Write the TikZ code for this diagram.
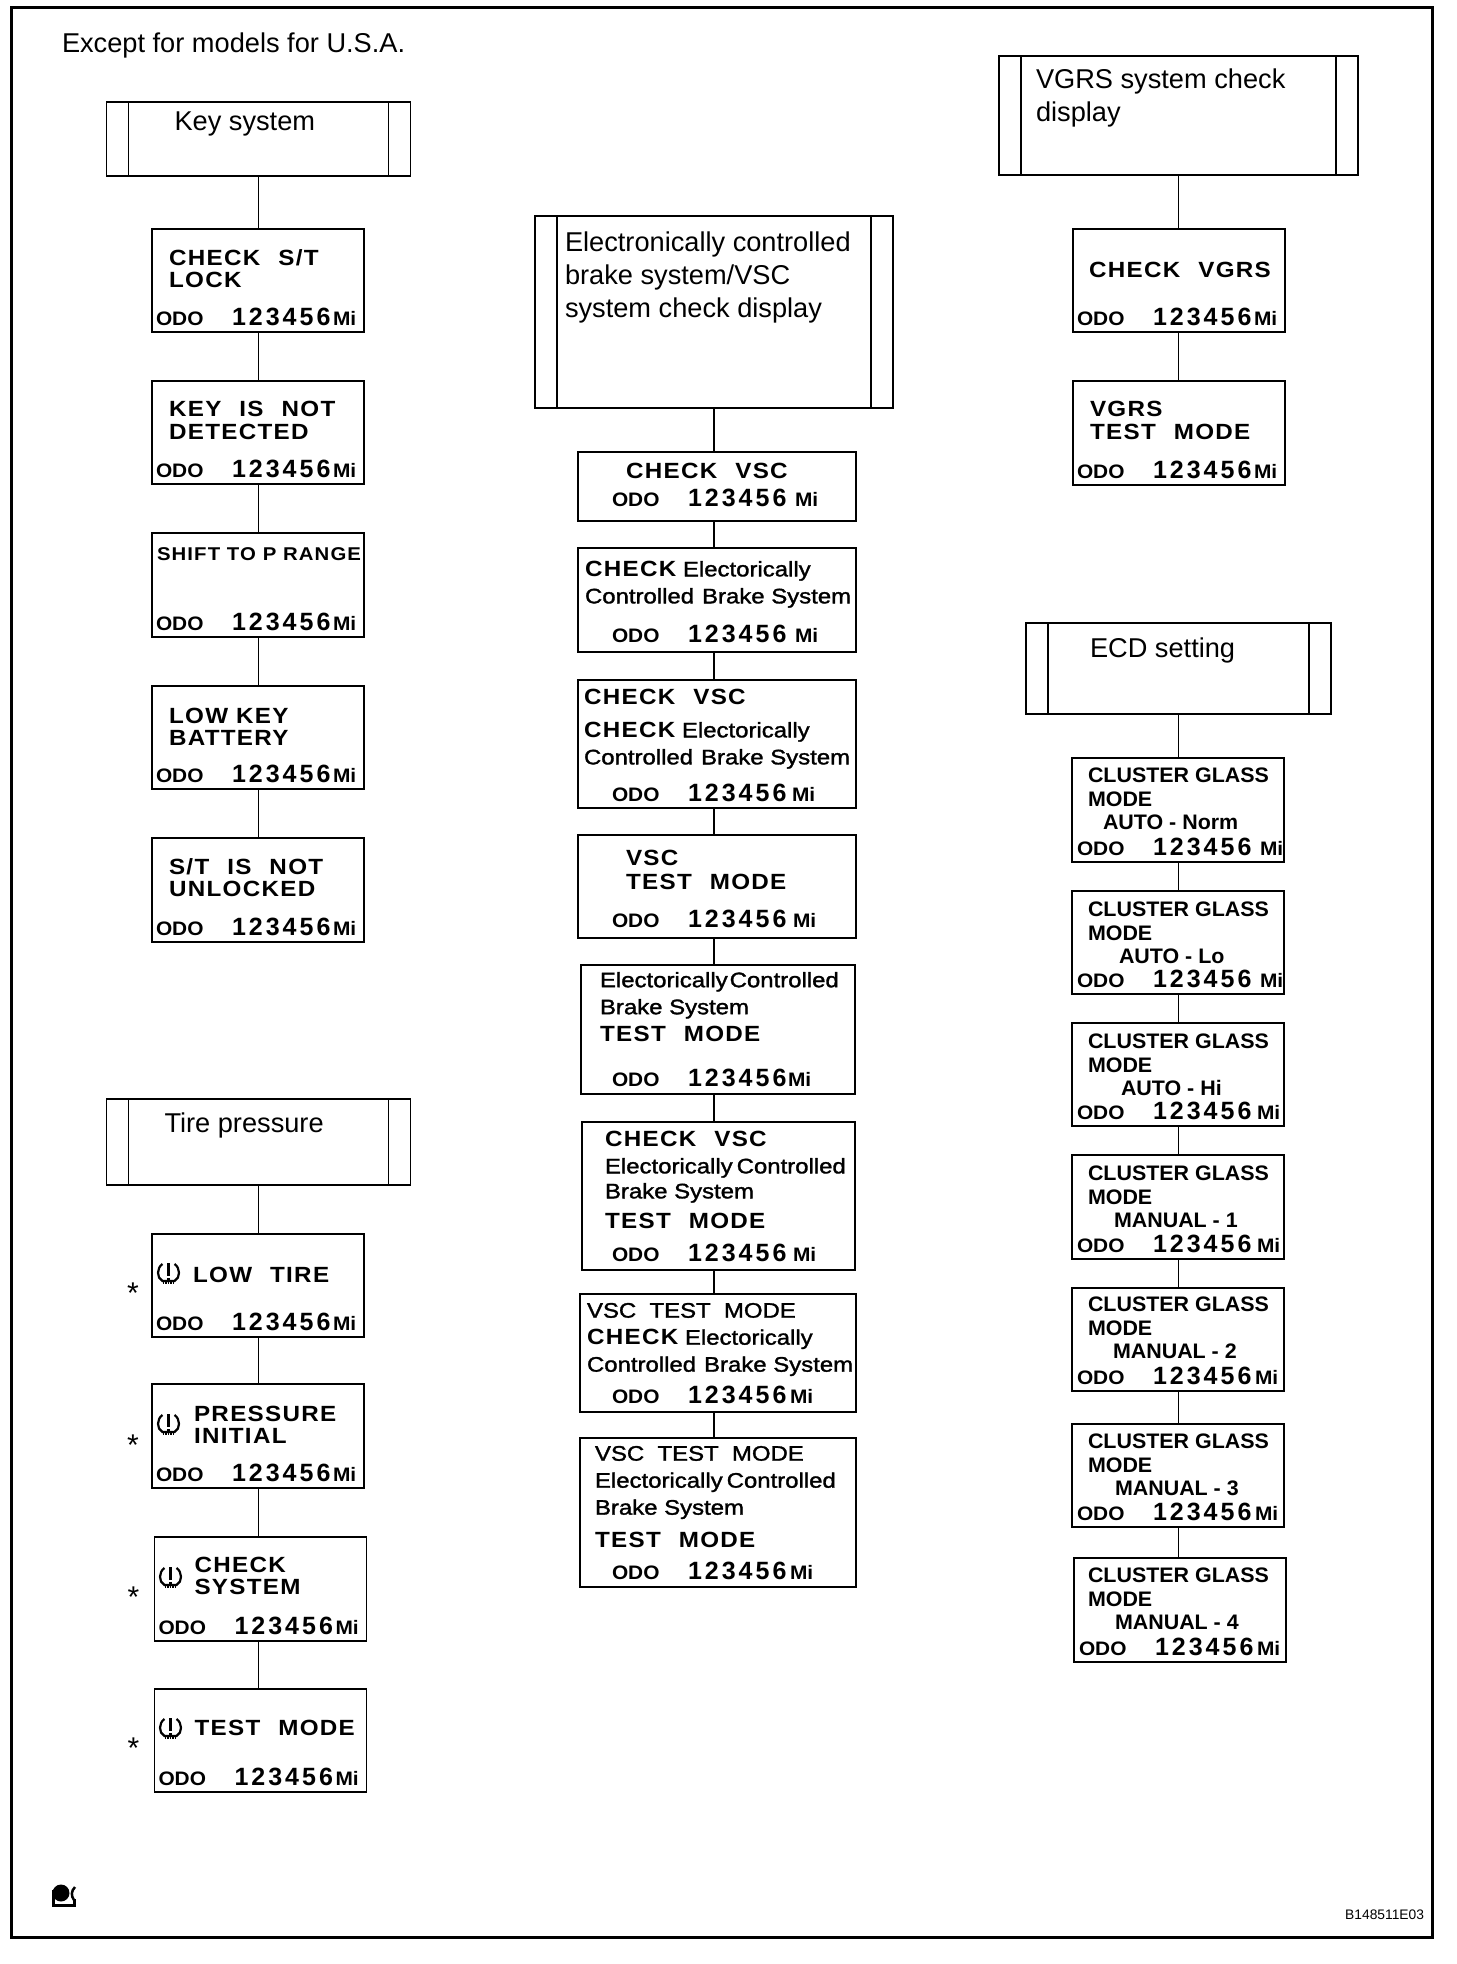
\documentclass[tikz,border=0pt]{standalone}
\usepackage{fontspec}
\setmainfont{Liberation Sans}
\newfontfamily\lcdfamily[FakeStretch=1.1,LetterSpace=6]{Liberation Sans}
\newfontfamily\numfamily[LetterSpace=12]{Liberation Sans}
\newfontfamily\mixfamily[FakeStretch=1.14,FakeBold=1.5]{Liberation Sans}
\newfontfamily\clufamily[FakeStretch=1.02]{Liberation Sans}
\newfontfamily\odofamily[FakeStretch=1.07]{Liberation Sans}
\usetikzlibrary{positioning}

\newcommand{\wsp}{\hspace{18pt}}
\newcommand{\lc}[1]{{\lcdfamily\bfseries\fontsize{22}{27}\selectfont #1}}
\newcommand{\odoline}[4][177]{%
    \node (#2odo) [odotext, above right=#3pt and #4pt of #2.south west] {%
        \makebox[76pt][l]{ODO}%
        \makebox[\dimexpr#1pt-76pt\relax][l]{\numfamily\bfseries\fontsize{25}{25}\selectfont 123456}%
        Mi};
}

\tikzset{
    tireicon/.pic={
        \draw [line width=2.2pt] (-6,-9) .. controls (-12,-5) and (-12,5) .. (-6,8) -- (6,8)
            .. controls (12,5) and (12,-5) .. (6,-9);
        \draw [line width=2.5pt] (0,-10) -- (0,3);
        \fill (-1.3,4.5) rectangle (1.3,7);
        \draw [line width=2.5pt, dash pattern=on 1.5pt off 1pt] (-6,10) -- (6,10);
    }
}

\begin{document}
\begin{tikzpicture}
    [x=1pt, y=-1pt, every node/.style={inner sep=0, outer sep=0},
     headbox/.style={draw, line width=1.4pt, anchor=north, path picture={
        \draw [line width=1.8pt] ([xshift=22pt]path picture bounding box.north west)
            -- ([xshift=22pt]path picture bounding box.south west);
        \draw [line width=1.8pt] ([xshift=-22pt]path picture bounding box.north east)
            -- ([xshift=-22pt]path picture bounding box.south east);
     }},
     dispbox/.style={draw, line width=1.4pt, minimum width=212pt},
     midbox/.style={draw, line width=1.4pt, minimum width=278pt},
     headtext/.style={anchor=north west, align=left, font=\fontsize{27.2}{33}\selectfont},
     lcd/.style={align=left, font=\lcdfamily\bfseries\fontsize{22}{22.5}\selectfont},
     mix/.style={align=left, font=\mixfamily\fontsize{21}{27}\selectfont},
     clu/.style={align=left, font=\clufamily\bfseries\fontsize{21}{23.5}\selectfont},
     odotext/.style={font=\odofamily\bfseries\fontsize{19.5}{20}\selectfont},
     starmark/.style={anchor=base, font=\fontsize{30}{30}\selectfont},
     conn/.style={draw, line width=1.5pt},
    ]
    \useasboundingbox (0,0) rectangle (1456,1964);
    \draw [line width=3pt] (11.5,8) rectangle (1432,1937);

    \node (title) [headtext] at (62,33) {Except for models for U.S.A.};
    \node (code) [anchor=south east, font=\fontsize{13.8}{14}\selectfont] at (1424,1920) {B148511E03};

    % key system
    \node (keyhead) [headbox, minimum width=304pt, minimum height=74pt] at (258.5,102) {};
    \node (keyheadt) [headtext, below right=10pt and 68pt of keyhead.north west] {Key system};
    \node (key1) [dispbox, minimum height=103pt, below=53pt of keyhead, xshift=-.5pt] {};
    \node (key2) [dispbox, minimum height=103pt, below=49pt of key1] {};
    \node (key3) [dispbox, minimum height=104pt, below=49pt of key2] {};
    \node (key4) [dispbox, minimum height=103pt, below=49pt of key3] {};
    \node (key5) [dispbox, minimum height=104pt, below=49pt of key4] {};
    \node (key1t) [lcd, below right=20.5pt and 17pt of key1.north west] {CHECK\wsp S/T\\LOCK};
    \node (key2t) [lcd, below right=20.5pt and 17pt of key2.north west] {KEY\wsp IS\wsp NOT\\DETECTED};
    \node (key3t) [lcd, font=\lcdfamily\bfseries\fontsize{18.5}{23}\selectfont, below right=15pt and 5pt of key3.north west] {SHIFT TO P RANGE};
    \node (key4t) [lcd, below right=22pt and 17pt of key4.north west] {LOW KEY\\BATTERY};
    \node (key5t) [lcd, below right=20.5pt and 17pt of key5.north west] {S/T\wsp IS\wsp NOT\\UNLOCKED};
    \odoline{key1}{6}{4}
    \odoline{key2}{6}{4}
    \odoline{key3}{6}{4}
    \odoline{key4}{6}{4}
    \odoline{key5}{6}{4}

    % tire pressure
    \node (tirehead) [headbox, minimum width=304pt, minimum height=86pt] at (258.5,1099) {};
    \node (tireheadt) [headtext, below right=14pt and 58pt of tirehead.north west] {Tire pressure};
    \node (tire1) [dispbox, minimum height=103pt, below=49pt of tirehead, xshift=-.5pt] {};
    \node (tire2) [dispbox, minimum height=104pt, below=47pt of tire1] {};
    \node (tire3) [dispbox, minimum height=104pt, below=49pt of tire2, xshift=2.5pt] {};
    \node (tire4) [dispbox, minimum height=103pt, below=48pt of tire3] {};
    \node (tire1t) [lcd, below right=33pt and 41pt of tire1.north west] {LOW\wsp TIRE};
    \node (tire2t) [lcd, below right=22pt and 42pt of tire2.north west] {PRESSURE\\INITIAL};
    \node (tire3t) [lcd, below right=20pt and 40pt of tire3.north west] {CHECK\\SYSTEM};
    \node (tire4t) [lcd, below right=31pt and 40pt of tire4.north west] {TEST\wsp MODE};
    \odoline{tire1}{6}{4}
    \odoline{tire2}{6}{4}
    \odoline{tire3}{6}{4}
    \odoline{tire4}{6}{4}
    \pic at ([shift={(16.5,39)}]tire1.north west) {tireicon};
    \pic at ([shift={(16.5,40)}]tire2.north west) {tireicon};
    \pic at ([shift={(16,40)}]tire3.north west) {tireicon};
    \pic at ([shift={(16,39)}]tire4.north west) {tireicon};
    \node (star1) [starmark] at ([shift={(-19,17.9)}]tire1.west) {*};
    \node (star2) [starmark] at ([shift={(-19,19.4)}]tire2.west) {*};
    \node (star3) [starmark] at ([shift={(-21,18.1)}]tire3.west) {*};
    \node (star4) [starmark] at ([shift={(-21,18.1)}]tire4.west) {*};

    % brake system
    \node (vschead) [headbox, minimum width=358pt, minimum height=192pt] at (714,216) {};
    \node (vscheadt) [headtext, below right=16pt and 30pt of vschead.north west]
        {Electronically controlled\\brake system/VSC\\system check display};
    \node (vsc1) [midbox, minimum height=69pt, below=44pt of vschead, xshift=3pt] {};
    \node (vsc2) [midbox, minimum height=104pt, below=27pt of vsc1] {};
    \node (vsc3) [midbox, minimum height=128pt, below=28pt of vsc2] {};
    \node (vsc4) [midbox, minimum height=103pt, below=27pt of vsc3] {};
    \node (vsc5) [midbox, minimum width=274pt, minimum height=129pt, below=27pt of vsc4, xshift=1pt] {};
    \node (vsc6) [midbox, minimum width=273pt, minimum height=148pt, below=28pt of vsc5, xshift=.5pt] {};
    \node (vsc7) [midbox, minimum width=276pt, minimum height=118pt, below=24pt of vsc6, xshift=-.5pt] {};
    \node (vsc8) [midbox, minimum width=276pt, minimum height=149pt, below=26pt of vsc7] {};
    \node (vsc1t) [lcd, below right=11pt and 48pt of vsc1.north west] {CHECK\wsp VSC};
    \node (vsc2t) [mix, below right=13pt and 7pt of vsc2.north west] {\lc{CHECK} Electorically\\Controlled\hspace{8pt}Brake System};
    \node (vsc3t) [mix, below right=9pt and 6pt of vsc3.north west] {\lc{CHECK\wsp VSC}\\[6pt]\lc{CHECK} Electorically\\Controlled\hspace{8pt}Brake System};
    \node (vsc4t) [lcd, font=\lcdfamily\bfseries\fontsize{22}{24}\selectfont, below right=15pt and 48pt of vsc4.north west] {VSC\\TEST\wsp MODE};
    \node (vsc5t) [mix, below right=7pt and 19pt of vsc5.north west] {Electorically\hspace{2pt}Controlled\\Brake System\\\lc{TEST\wsp MODE}};
    \node (vsc6t) [mix, below right=9pt and 23pt of vsc6.north west] {\lc{CHECK\wsp VSC}\\Electorically\hspace{4pt}Controlled\\[-2pt]Brake System\\[3pt]\lc{TEST\wsp MODE}};
    \node (vsc7t) [mix, below right=9pt and 7pt of vsc7.north west] {VSC\ \ TEST\ \ MODE\\\lc{CHECK} Electorically\\Controlled\hspace{8pt}Brake System};
    \node (vsc8t) [mix, below right=8pt and 15pt of vsc8.north west] {VSC\ \ TEST\ \ MODE\\Electorically\hspace{4pt}Controlled\\Brake System\\[6pt]\lc{TEST\wsp MODE}};
    \odoline[183]{vsc1}{14}{34}
    \odoline[183]{vsc2}{9}{34}
    \odoline[180]{vsc3}{6.5}{34}
    \odoline[181]{vsc4}{10}{34}
    \odoline[176]{vsc5}{7}{31}
    \odoline[181]{vsc6}{8}{30}
    \odoline[178]{vsc7}{8}{32}
    \odoline[178]{vsc8}{7}{32}

    % vgrs
    \node (vgrshead) [headbox, minimum width=359pt, minimum height=119pt] at (1178.5,56) {};
    \node (vgrsheadt) [headtext, below right=13pt and 37pt of vgrshead.north west] {VGRS system check\\display};
    \node (vgrs1) [dispbox, minimum height=103pt, below=54pt of vgrshead, xshift=.5pt] {};
    \node (vgrs2) [dispbox, minimum height=104pt, below=49pt of vgrs1] {};
    \node (vgrs1t) [lcd, below right=33pt and 16pt of vgrs1.north west] {CHECK\wsp VGRS};
    \node (vgrs2t) [lcd, below right=20.5pt and 17pt of vgrs2.north west] {VGRS\\TEST\wsp MODE};
    \odoline{vgrs1}{6}{4}
    \odoline{vgrs2}{6}{4}

    % ecd setting
    \node (ecdhead) [headbox, minimum width=305pt, minimum height=91pt] at (1178.5,623) {};
    \node (ecdheadt) [headtext, below right=15pt and 64pt of ecdhead.north west] {ECD setting};
    \node (ecd1) [dispbox, minimum height=104pt, below=44pt of ecdhead, xshift=-.5pt] {};
    \node (ecd2) [dispbox, minimum height=103pt, below=29pt of ecd1] {};
    \node (ecd3) [dispbox, minimum height=103pt, below=29pt of ecd2] {};
    \node (ecd4) [dispbox, minimum height=104pt, below=29pt of ecd3] {};
    \node (ecd5) [dispbox, minimum height=103pt, below=29pt of ecd4] {};
    \node (ecd6) [dispbox, minimum height=103pt, below=33pt of ecd5] {};
    \node (ecd7) [dispbox, minimum height=104pt, below=31pt of ecd6, xshift=2pt] {};
    \node (ecd1t) [clu, below right=10pt and 16pt of ecd1.north west] {CLUSTER GLASS\\MODE\\\hspace*{15pt}AUTO - Norm};
    \node (ecd2t) [clu, below right=11pt and 16pt of ecd2.north west] {CLUSTER GLASS\\MODE\\\hspace*{31pt}AUTO - Lo};
    \node (ecd3t) [clu, below right=11pt and 16pt of ecd3.north west] {CLUSTER GLASS\\MODE\\\hspace*{33pt}AUTO - Hi};
    \node (ecd4t) [clu, below right=11pt and 16pt of ecd4.north west] {CLUSTER GLASS\\MODE\\\hspace*{26pt}MANUAL - 1};
    \node (ecd5t) [clu, below right=9pt and 16pt of ecd5.north west] {CLUSTER GLASS\\MODE\\\hspace*{25pt}MANUAL - 2};
    \node (ecd6t) [clu, below right=10pt and 16pt of ecd6.north west] {CLUSTER GLASS\\MODE\\\hspace*{27pt}MANUAL - 3};
    \node (ecd7t) [clu, below right=10pt and 14pt of ecd7.north west] {CLUSTER GLASS\\MODE\\\hspace*{27pt}MANUAL - 4};
    \odoline[183]{ecd1}{6}{5}
    \odoline[183]{ecd2}{6}{5}
    \odoline[180]{ecd3}{6}{5}
    \odoline[180]{ecd4}{6}{5}
    \odoline[178]{ecd5}{6}{5}
    \odoline[178]{ecd6}{6}{5}
    \odoline[178]{ecd7}{6}{5}

    % connectors
    \foreach \a/\b in {keyhead/key1, key1/key2, key2/key3, key3/key4, key4/key5}
        \draw [conn] (keyhead.south |- \a.south) -- (keyhead.south |- \b.north);
    \foreach \a/\b in {tirehead/tire1, tire1/tire2, tire2/tire3, tire3/tire4}
        \draw [conn] (tirehead.south |- \a.south) -- (tirehead.south |- \b.north);
    \foreach \a/\b in {vschead/vsc1, vsc1/vsc2, vsc2/vsc3, vsc3/vsc4, vsc4/vsc5, vsc5/vsc6, vsc6/vsc7, vsc7/vsc8}
        \draw [conn, line width=1.8pt] (vschead.south |- \a.south) -- (vschead.south |- \b.north);
    \foreach \a/\b in {vgrshead/vgrs1, vgrs1/vgrs2}
        \draw [conn] (vgrshead.south |- \a.south) -- (vgrshead.south |- \b.north);
    \foreach \a/\b in {ecdhead/ecd1, ecd1/ecd2, ecd2/ecd3, ecd3/ecd4, ecd4/ecd5, ecd5/ecd6, ecd6/ecd7}
        \draw [conn] (ecdhead.south |- \a.south) -- (ecdhead.south |- \b.north);

    % corner mark
    \fill (61,1893) circle (8.5);
    \draw [line width=3pt] (53.5,1890) -- (53.5,1905.5) -- (74,1905.5) -- (74,1899);
    \draw [line width=2.5pt] (75,1887) .. controls (71,1891) and (71,1896) .. (74,1900);
\end{tikzpicture}
\end{document}
